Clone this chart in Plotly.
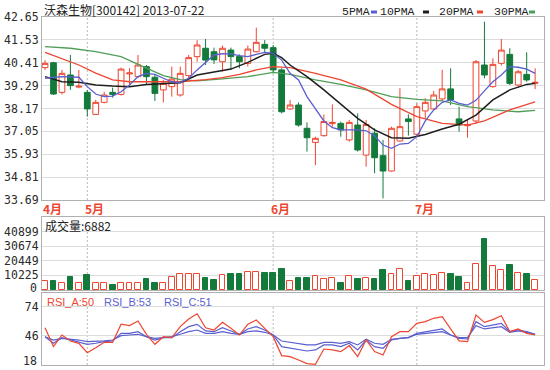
import plotly.graph_objects as go

# ---------------- data ----------------
open_ = [40.17, 40.41, 38.96, 39.81, 39.22, 38.96, 37.88, 38.47, 38.96, 38.86,
         39.86, 39.73, 40.22, 39.70, 39.08, 39.24, 38.83, 39.78, 40.71, 41.12,
         40.95, 40.46, 41.03, 40.71, 40.38, 40.95, 41.31, 41.15, 40.06, 38.15,
         38.34, 37.20, 36.51, 36.84, 37.43, 37.44, 36.63, 37.36, 35.89, 36.96,
         35.86, 35.11, 36.58, 37.66, 36.91, 38.05, 38.15, 38.64, 39.13, 37.66,
         37.33, 37.56, 40.30, 39.24, 40.38, 40.82, 39.32, 39.84, 39.40]
high = [40.54, 40.46, 40.06, 40.79, 40.06, 39.08, 38.59, 38.99, 39.19, 40.17,
        40.14, 40.79, 40.30, 39.81, 39.57, 40.22, 40.22, 40.79, 41.52, 41.57,
        41.15, 41.25, 41.15, 40.82, 41.25, 42.13, 41.52, 41.28, 40.14, 38.59,
        38.47, 37.49, 36.79, 37.88, 38.37, 37.53, 37.61, 37.93, 37.61, 37.20,
        36.63, 37.28, 39.16, 37.88, 38.42, 38.67, 39.03, 40.06, 40.14, 38.26,
        37.66, 40.54, 42.42, 40.63, 41.57, 41.12, 40.06, 40.92, 40.14]
low = [40.06, 38.83, 38.86, 39.08, 39.16, 37.77, 37.85, 38.42, 38.70, 38.80,
       39.32, 39.65, 39.32, 38.54, 38.47, 38.75, 38.75, 39.65, 40.46, 40.30,
       40.35, 39.97, 40.06, 40.14, 40.22, 40.92, 40.92, 39.89, 37.93, 38.10,
       37.28, 36.06, 35.40, 36.79, 37.28, 36.79, 36.55, 36.06, 35.32, 35.00,
       33.77, 35.08, 36.55, 36.84, 36.79, 37.69, 38.10, 38.54, 38.34, 37.04,
       36.74, 37.44, 39.65, 39.19, 40.27, 39.32, 39.19, 39.48, 39.12]
close = [40.38, 38.88, 39.89, 39.29, 39.26, 38.15, 38.47, 38.83, 38.86, 40.10,
         39.91, 40.30, 39.73, 38.91, 39.40, 39.61, 39.89, 40.66, 41.28, 40.54,
         40.55, 41.12, 40.71, 40.46, 41.08, 41.41, 41.12, 40.06, 38.01, 38.34,
         37.36, 36.74, 36.71, 37.53, 37.49, 37.12, 37.49, 36.14, 37.39, 35.76,
         35.11, 37.20, 37.28, 37.53, 38.26, 38.47, 38.83, 39.13, 38.59, 37.36,
         37.39, 40.46, 39.81, 40.33, 41.03, 39.40, 39.97, 39.57, 39.45]
volume = [6300, 6300, 4700, 9300, 4700, 10500, 4700, 4700, 3300, 5100,
          5100, 5100, 7900, 5100, 5100, 9100, 11000, 11000, 11000, 8200,
          7000, 10500, 11400, 11400, 12600, 12600, 12100, 12100, 14500, 6300,
          8600, 8600, 9800, 7900, 8600, 5100, 9800, 7900, 8600, 7900,
          14000, 11000, 14900, 6300, 9800, 11000, 10300, 12100, 11000, 9300,
          4700, 18000, 35500, 16800, 14000, 17300, 12100, 11000, 6882]

ma5_x = [0, 2, 4, 5, 6, 7, 8, 9, 10, 11, 12, 13, 14, 15, 16, 17, 18, 19, 20, 21,
         22, 23, 24, 25, 26, 27, 28, 29, 30, 31, 32, 33, 34, 35, 36, 37, 38, 39,
         40, 41, 42, 43, 44, 45, 46, 47, 48, 49, 50, 51, 52, 53, 54, 55, 56, 57, 58]
ma5_y = [39.65, 39.73, 39.70, 39.24, 38.88, 38.75, 38.78, 38.99, 39.32, 39.73,
         39.89, 39.84, 39.65, 39.48, 39.44, 39.65, 40.06, 40.43, 40.79, 40.85,
         40.84, 40.76, 40.71, 40.82, 40.92, 40.87, 40.54, 39.89, 39.57, 38.75,
         38.18, 37.56, 37.23, 37.13, 37.12, 37.12, 37.08, 36.84, 36.38, 36.22,
         36.43, 36.46, 36.79, 37.56, 38.10, 38.47, 38.59, 38.42, 38.34, 38.57,
         39.03, 39.48, 39.81, 40.22, 40.19, 40.10, 39.89]
ma10_x = [0, 2, 4, 6, 8, 10, 12, 14, 16, 18, 20, 22, 24, 26, 27, 28, 29, 31, 33,
          35, 37, 39, 41, 43, 45, 47, 49, 51, 53, 55, 57, 58]
ma10_y = [39.73, 39.48, 39.45, 39.32, 39.27, 39.24, 39.35, 39.40, 39.43, 39.81,
          39.97, 40.10, 40.43, 40.82, 40.87, 40.66, 40.30, 39.73, 39.08, 38.37,
          37.69, 37.12, 36.74, 36.71, 36.90, 37.17, 37.40, 37.85, 38.59, 39.08,
          39.35, 39.40]
ma20_x = [0, 2, 4, 6, 8, 10, 13, 16, 19, 21, 23, 25, 27, 29, 32, 35, 38, 41, 44,
          47, 50, 52, 55, 58]
ma20_y = [40.92, 40.60, 40.30, 39.90, 39.57, 39.48, 39.47, 39.48, 39.58, 39.68,
          39.84, 40.06, 40.22, 40.17, 39.89, 39.57, 39.12, 38.37, 37.77, 37.44,
          37.36, 37.56, 38.10, 38.50]
ma30_x = [0, 3, 6, 9, 12, 14, 16, 18, 21, 24, 27, 29, 32, 35, 38, 41, 44, 47, 50,
          53, 56, 58]
ma30_y = [41.20, 41.12, 40.95, 40.71, 40.15, 39.78, 39.58, 39.52, 39.62, 39.73,
          39.94, 39.84, 39.57, 39.35, 39.08, 38.75, 38.62, 38.54, 38.26, 38.10,
          38.01, 38.08]

rsi_a = [53.7, 35.6, 46.7, 41.0, 38.7, 29.8, 34.6, 39.7, 39.7, 57.0, 55.7, 60.1,
         47.4, 37.8, 45.1, 44.2, 54.7, 62.0, 67.1, 53.7, 51.5, 58.8, 53.1, 46.7,
         57.0, 61.1, 53.1, 45.1, 27.0, 26.0, 22.8, 19.3, 18.7, 33.3, 32.4, 30.8,
         36.5, 26.0, 42.0, 30.8, 27.6, 45.1, 49.9, 49.9, 57.9, 59.5, 62.7, 64.3,
         52.5, 41.0, 40.4, 65.9, 58.8, 61.4, 65.2, 49.9, 52.5, 48.3, 46.7]
rsi_b = [45.1, 38.8, 44.2, 41.9, 40.3, 37.8, 38.8, 40.3, 41.0, 48.3, 48.3, 49.9,
         45.1, 41.9, 44.2, 44.2, 49.9, 54.7, 56.9, 50.6, 49.9, 53.7, 50.6, 47.4,
         52.5, 54.7, 51.5, 46.7, 35.6, 34.0, 33.0, 31.4, 32.4, 37.2, 37.2, 35.6,
         38.8, 32.4, 41.9, 35.6, 34.0, 41.9, 43.5, 44.2, 48.3, 49.9, 51.5, 52.5,
         46.7, 43.5, 42.9, 59.5, 54.7, 56.3, 57.9, 49.9, 51.5, 49.9, 47.4]
rsi_c = [45.1, 41.9, 43.5, 42.9, 41.9, 40.3, 40.3, 41.0, 41.9, 46.1, 46.7, 47.4,
         45.1, 43.5, 44.2, 45.1, 47.4, 49.9, 51.5, 48.3, 48.3, 49.9, 48.3, 47.4,
         49.9, 50.6, 49.3, 46.7, 41.0, 39.7, 38.4, 37.2, 37.2, 39.7, 39.7, 38.8,
         40.3, 37.2, 42.6, 38.8, 37.8, 42.6, 43.5, 44.2, 47.4, 48.3, 49.3, 49.9,
         46.7, 44.2, 44.2, 55.7, 52.5, 53.7, 54.7, 49.3, 50.6, 49.3, 47.4]

month_pos = [0, 5, 27, 44]
month_labels = ["4月", "5月", "6月", "7月"]
price_ticks = [33.69, 34.81, 35.93, 37.05, 38.17, 39.29, 40.41, 41.53, 42.65]
vol_ticks = [0, 10225, 20449, 30674, 40899]
rsi_ticks = [18, 46, 74]

title_text = "沃森生物[300142] 2013-07-22"
ma_names = ["5PMA", "10PMA", "20PMA", "30PMA"]
vol_header = "成交量:6882"
rsi_headers = ["RSI_A:50", "RSI_B:53", "RSI_C:51"]

# ---------------- styling ----------------
W, H = 550, 370
L, R, T, B = 42, 6, 17, 5
PW, PH = W - L - R, H - T - B
RED = "#ee4630"
GREEN = "#137a3c"
BLUE = "#5a5fcf"
BLACK = "#1e1e1e"
MAGREEN = "#4f9e58"
GRID = "#dcdcdc"
FRAME = "#b0b0b0"
TICKFONT = dict(family="DejaVu Sans Mono", size=11.5, color="#2a2a2a")
ma_colors = [BLUE, BLACK, RED, MAGREEN]


def pxx(px):
    return (px - L) / PW


def pxy(py):
    return (H - B - py) / PH


idx = list(range(len(close)))
n = len(close)

fig = go.Figure()

for xs, ys, c, w in [(ma30_x, ma30_y, MAGREEN, 1.3), (ma20_x, ma20_y, RED, 1.3),
                     (ma10_x, ma10_y, BLACK, 1.5), (ma5_x, ma5_y, BLUE, 1.3)]:
    fig.add_trace(go.Scatter(x=xs, y=ys, mode="lines", line=dict(color=c, width=w),
                             xaxis="x", yaxis="y", hoverinfo="skip", showlegend=False))

fig.add_trace(go.Candlestick(
    x=idx, open=open_, high=high, low=low, close=close, xaxis="x", yaxis="y",
    increasing=dict(line=dict(color=RED, width=1), fillcolor="white"),
    decreasing=dict(line=dict(color=GREEN, width=1), fillcolor=GREEN),
    whiskerwidth=0, showlegend=False, hoverinfo="skip"))

up = [c >= o for o, c in zip(open_, close)]
fig.add_trace(go.Bar(
    x=idx, y=volume, xaxis="x2", yaxis="y2", width=0.68,
    marker=dict(color=["white" if u else GREEN for u in up],
                line=dict(color=[RED if u else GREEN for u in up], width=1)),
    showlegend=False, hoverinfo="skip"))

for vals, c in [(rsi_c, BLUE), (rsi_b, BLUE), (rsi_a, RED)]:
    fig.add_trace(go.Scatter(x=idx, y=vals, mode="lines", line=dict(color=c, width=1.2),
                             xaxis="x3", yaxis="y3", hoverinfo="skip", showlegend=False))

xr = [-0.36, n + 0.05]
xcommon = dict(range=xr, autorange=False, showticklabels=False, showgrid=False,
               zeroline=False, showline=True, mirror=True, linecolor=FRAME, linewidth=1,
               ticks="", fixedrange=True, automargin=False)
ycommon = dict(showgrid=True, gridcolor=GRID, gridwidth=1, zeroline=False,
               showline=True, mirror=True, linecolor=FRAME, linewidth=1, ticks="",
               tickfont=TICKFONT, fixedrange=True, automargin=False)

vol_top = vol_ticks[-1] * (290 - 217) / (290 - 231.5)
rsi_top = 18 + (365 - 293) * (56 / 58.5)

vol_text = ["" if v == vol_ticks[0] else str(v) for v in vol_ticks]
rsi_text = ["" if v == rsi_ticks[0] else str(v) for v in rsi_ticks]

fig.update_layout(
    width=W, height=H, margin=dict(l=L, r=R, t=T, b=B, pad=0, autoexpand=False),
    paper_bgcolor="white", plot_bgcolor="white",
    boxgap=0.32, boxgroupgap=0, bargap=0,
    xaxis=dict(xcommon, domain=[0, 1], anchor="y", rangeslider=dict(visible=False)),
    xaxis2=dict(xcommon, domain=[0, 1], anchor="y2"),
    xaxis3=dict(xcommon, domain=[0, 1], anchor="y3"),
    yaxis=dict(ycommon, domain=[pxy(200), 1], range=[price_ticks[0], price_ticks[-1]],
               tickvals=price_ticks, ticktext=["%.2f" % v for v in price_ticks], anchor="x"),
    yaxis2=dict(ycommon, domain=[pxy(290), pxy(217)], range=[0, vol_top],
                tickvals=vol_ticks, ticktext=vol_text, anchor="x2"),
    yaxis3=dict(ycommon, domain=[0, pxy(293)], range=[18, rsi_top],
                tickvals=rsi_ticks, ticktext=rsi_text, anchor="x3"),
)

shapes = []
for p in month_pos[1:]:
    for xref, yref, y0, y1 in [("x", "y", price_ticks[0], price_ticks[-1]),
                               ("x2", "y2", 0, vol_ticks[-1]),
                               ("x3", "y3", rsi_ticks[0], rsi_ticks[-1])]:
        shapes.append(dict(type="line", xref=xref, yref=yref, x0=p, x1=p, y0=y0, y1=y1,
                           line=dict(color="#b8b8b8", width=1, dash="2px,2px"), layer="below"))
chip_x = [371, 423, 477, 529]
for cx, c in zip(chip_x, ma_colors):
    shapes.append(dict(type="rect", xref="paper", yref="paper", x0=pxx(cx), x1=pxx(cx + 6),
                       y0=pxy(13.5), y1=pxy(10.5), fillcolor=c, line=dict(width=0)))
fig.update_layout(shapes=shapes)

ann = []
ann.append(dict(text=title_text, xref="paper", yref="paper", x=pxx(42), y=pxy(9.5),
                xanchor="left", yanchor="middle", showarrow=False,
                font=dict(family="Noto Sans CJK SC", size=12, color="#222222")))
name_x = [340, 378, 437, 492]
for nx, nm in zip(name_x, ma_names):
    ann.append(dict(text=nm, xref="paper", yref="paper", x=pxx(nx), y=pxy(11),
                    xanchor="left", yanchor="middle", showarrow=False,
                    font=dict(family="Liberation Mono", size=11.5, color="#222222")))
for p, lab in zip(month_pos, month_labels):
    ann.append(dict(text="<b>%s</b>" % lab, xref="x", yref="paper", x=p, y=pxy(208.5),
                    xanchor="left", yanchor="middle", xshift=-4, showarrow=False,
                    font=dict(family="Noto Sans CJK SC", size=12, color=RED)))
ann.append(dict(text=vol_header, xref="paper", yref="paper", x=pxx(43), y=pxy(225.5),
                xanchor="left", yanchor="middle", showarrow=False,
                font=dict(family="Noto Sans CJK SC", size=12, color="#222222")))
for hx, txt, c in zip([45, 102, 162], rsi_headers, [RED, BLUE, BLUE]):
    ann.append(dict(text=txt, xref="paper", yref="paper", x=pxx(hx), y=pxy(301.5),
                    xanchor="left", yanchor="middle", showarrow=False,
                    font=dict(family="Liberation Sans", size=11, color=c)))
ann.append(dict(text=str(vol_ticks[0]), xref="paper", yref="y2", x=0, y=vol_ticks[0],
                xanchor="right", yanchor="middle", xshift=-3, yshift=2, showarrow=False,
                font=TICKFONT))
ann.append(dict(text=str(rsi_ticks[0]), xref="paper", yref="y3", x=0, y=rsi_ticks[0],
                xanchor="right", yanchor="middle", xshift=-3, yshift=4, showarrow=False,
                font=TICKFONT))
fig.update_layout(annotations=ann)

# the page's default 8px body margin would offset the whole chart; remove it
fig.write_html("out.html", config={"displayModeBar": False},
               post_script="document.body.style.margin='0px';")
